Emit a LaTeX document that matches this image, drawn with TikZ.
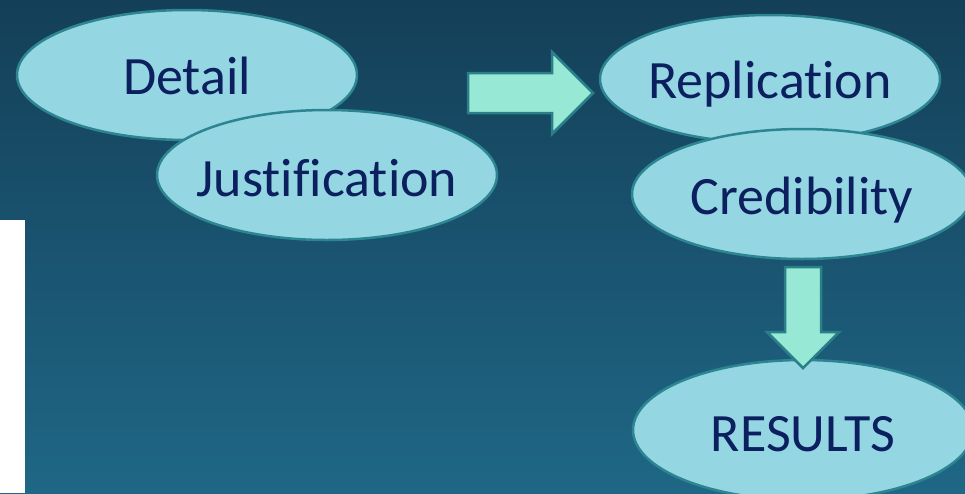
\documentclass[tikz,border=0pt]{standalone}
\usepackage{fontspec}
\setmainfont{Carlito}[RawFeature={-liga;-clig}]
\usetikzlibrary{shapes.geometric}
\definecolor{ellfill}{HTML}{94D7E3}
\definecolor{ellline}{HTML}{2C8590}
\definecolor{txt}{HTML}{0C1F5E}
\definecolor{arrfill}{HTML}{98E8D6}
\definecolor{arrline}{HTML}{2A8088}
\definecolor{bgtop}{HTML}{143F58}
\definecolor{bgbot}{HTML}{1F6786}
\newcommand{\bubtext}[2][0pt]{\makebox[0pt]{\raisebox{-#1}[\height][\depth]{#2}}}
\begin{document}
\begin{tikzpicture}[x=1pt,y=-1pt,
  bubble/.style={ellipse, draw=ellline, line width=2.5pt, fill=ellfill, text=txt,
    minimum width=340pt, minimum height=130pt, inner sep=0pt,
    font=\fontsize{54}{60}\selectfont},
  blockarrow/.style={draw=arrline, line width=2.5pt, fill=arrfill, line join=miter}]
\useasboundingbox (0,0) rectangle (965,493);
\shade[top color=bgtop, bottom color=bgbot] (0,0) rectangle (965,493);
\fill[white] (0,220) rectangle (25,493);
\node[bubble] (detail) at (187,75) {\bubtext[1pt]{Detail}};
\node[bubble] (justification) at (327,175) {\bubtext[3pt]{Justification}};
\node[bubble, minimum height=128pt] (replication) at (770,79) {\bubtext[5pt]{Replication}};
\node[bubble] (credibility) at (802,194) {\bubtext[6pt]{Credibility}};
\node[bubble, minimum height=140pt] (results) at (803,430) {\bubtext[4pt]{RESULTS}};
% right block arrow from Detail/Justification group to Replication
\coordinate (rtip) at (593,93);
\draw[blockarrow] (468,73) -- (552,73) -- (552,52) -- (rtip) -- (552,134) -- (552,113) -- (468,113) -- cycle;
% down block arrow from Credibility to RESULTS
\coordinate (dtip) at (803,368);
\draw[blockarrow] (785,267) -- (821,267) -- (821,332) -- (839,332) -- (dtip) -- (767,332) -- (785,332) -- cycle;
\end{tikzpicture}
\end{document}
